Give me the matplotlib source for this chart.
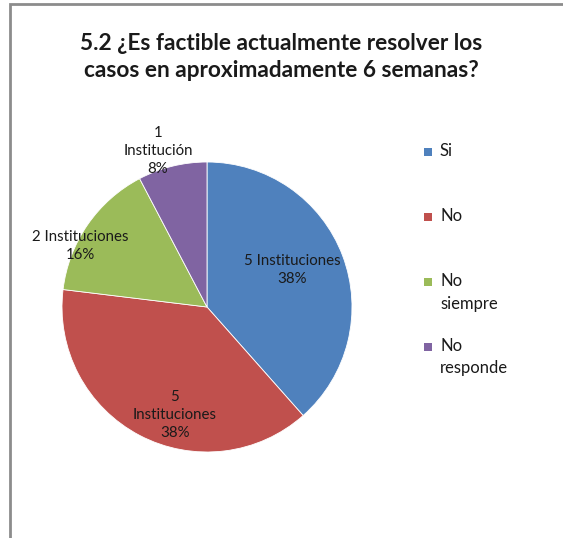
import matplotlib
matplotlib.use("Agg")
import matplotlib.pyplot as plt
from matplotlib.patches import Rectangle

categories = ["Si", "No", "No\nsiempre", "No\nresponde"]
values = [5, 5, 2, 1]
label_texts = ["5 Instituciones\n38%", "5\nInstituciones\n38%", "2 Instituciones\n16%", "1\nInstitución\n8%"]
colors = ["#4F81BD", "#C0504D", "#9BBB59", "#8064A2"]
title = "5.2 ¿Es factible actualmente resolver los\ncasos en aproximadamente 6 semanas?"

W, H = 563, 538
fig = plt.figure(figsize=(W / 100, H / 100), dpi=100)
FONT = ["Lato", "DejaVu Sans"]

def fx(x):
    return x / W

def fy(y):
    return 1 - y / H

# border
fig.add_artist(Rectangle((fx(10), fy(560)), fx(600), 556 / H, transform=fig.transFigure,
                         fill=False, edgecolor="#8C8C8C", linewidth=2))

fig.text(fx(281), fy(57), title, ha="center", va="center", fontsize=16.3, fontweight="bold",
         family=FONT, color="#1a1a1a", linespacing=1.3)

cx, cy, r = 207, 307, 145
ax = fig.add_axes([fx(cx - r), fy(cy + r), 2 * r / W, 2 * r / H])
ax.pie(values, colors=colors, startangle=90, counterclock=False,
       wedgeprops=dict(edgecolor="white", linewidth=0.6))
ax.set_xlim(-1, 1)
ax.set_ylim(-1, 1)
ax.set_aspect("auto")
ax.axis("off")

label_pos = [(292, 270), (175, 415), (80, 246), (158, 151)]
for txt, (x, y) in zip(label_texts, label_pos):
    fig.text(fx(x), fy(y), txt, ha="center", va="center", fontsize=10.8, family=FONT,
             color="#1a1a1a", linespacing=1.36)

leg_y = [152, 217, 282, 347]
for cat, col, y in zip(categories, colors, leg_y):
    s = 8
    fig.add_artist(Rectangle((fx(428 - s / 2), fy(y + s / 2)), s / W, s / H,
                             transform=fig.transFigure, facecolor=col, edgecolor="none"))
    fig.text(fx(440), fy(y - 9), cat, ha="left", va="top", fontsize=12, family=FONT,
             color="#1a1a1a", linespacing=1.5)

fig.savefig("out.png", dpi=100)
